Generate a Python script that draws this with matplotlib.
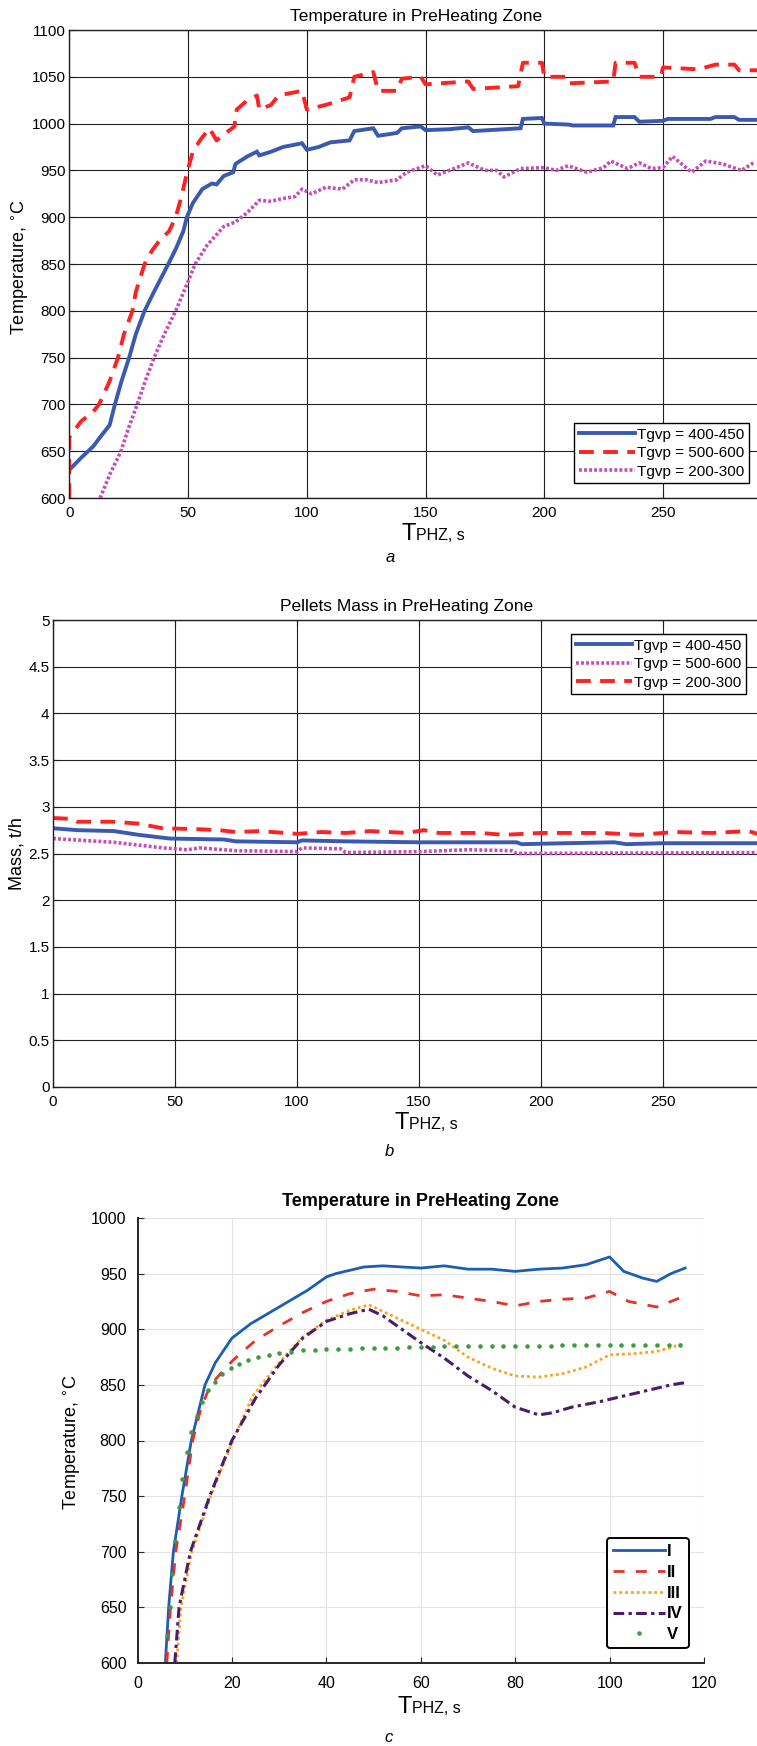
import matplotlib
matplotlib.use("Agg")
import matplotlib.pyplot as plt
from matplotlib.ticker import FuncFormatter

plt.rcParams['font.family'] = ['Liberation Sans', 'DejaVu Sans']

# ---------------- data: chart a (temperature, 3 regimes) ----------------
a_labels = ['Tgvp = 400-450', 'Tgvp = 500-600', 'Tgvp = 200-300']
a_blue_x = [0, 5, 10, 13, 17, 19.2, 22, 25.2, 28, 31.7, 36, 41.7, 45, 48, 49.5, 52, 56, 60, 62, 65,
            69, 70, 75, 79, 80, 85, 90, 98, 100, 105, 110, 118, 120, 128, 130, 138, 140, 148, 150, 160,
            168, 170, 190, 191, 199, 200, 210, 212, 229, 230, 238, 240, 250, 252, 270, 272, 280, 282, 290]
a_blue_y = [630, 643, 655, 665, 678, 700, 725, 750, 775, 800, 822, 850, 867, 885, 900, 915, 930, 936, 935, 944,
            948, 957, 965, 970, 966, 970, 975, 979, 972, 975, 980, 982, 992, 995, 987, 990, 995, 997, 993, 994,
            996, 992, 995, 1005, 1006, 1000, 999, 998, 998, 1007, 1007, 1002, 1003, 1005, 1005, 1007, 1007, 1004, 1004]
a_red_x = [0, 0, 5, 10, 12.5, 17, 20.5, 23, 26.6, 28, 31.7, 35, 38, 42, 44.8, 47, 49.8, 52, 55, 59,
           62, 66, 69.5, 70.5, 75, 79, 80, 85, 88, 98, 100, 108, 118, 120, 128, 130, 138, 140, 148, 150,
           168, 170, 189, 191, 199, 200, 209, 210, 229, 230, 238, 240, 249, 250, 265, 272, 280, 282, 290]
a_red_y = [600, 665, 682, 692, 700, 725, 750, 775, 800, 820, 850, 865, 875, 885, 900, 920, 950, 970, 982, 995,
           982, 990, 997, 1015, 1025, 1030, 1015, 1020, 1030, 1035, 1015, 1020, 1028, 1050, 1055, 1035, 1035, 1048, 1050, 1042,
           1045, 1037, 1040, 1065, 1065, 1050, 1050, 1043, 1045, 1065, 1065, 1050, 1050, 1060, 1058, 1063, 1063, 1057, 1057]
a_mag_x = [13, 17, 21.6, 25, 28.6, 32, 35.7, 40, 44.8, 49.8, 53, 58, 65, 70, 75, 80, 85, 90, 95, 98,
           102, 108, 115, 120, 125, 130, 138, 142, 150, 155, 160, 168, 175, 180, 183, 190, 200, 205, 210, 218,
           225, 228, 235, 240, 245, 250, 254, 262, 268, 275, 283, 288]
a_mag_y = [600, 625, 649, 675, 700, 725, 750, 775, 800, 830, 850, 870, 890, 895, 905, 918, 917, 920, 922, 930,
           925, 932, 930, 940, 940, 937, 940, 948, 955, 945, 950, 958, 950, 950, 943, 952, 953, 950, 955, 948,
           953, 960, 952, 958, 952, 953, 965, 948, 960, 957, 950, 958]

# ---------------- data: chart b (pellets mass) ----------------
b_labels = ['Tgvp = 400-450', 'Tgvp = 500-600', 'Tgvp = 200-300']
b_blue_x = [0, 10, 25, 35, 48, 70, 75, 100, 102, 120, 150, 190, 192, 210, 230, 235, 250, 290]
b_blue_y = [2.77, 2.75, 2.74, 2.70, 2.66, 2.65, 2.63, 2.62, 2.64, 2.63, 2.62, 2.62, 2.60, 2.61, 2.62, 2.60, 2.61, 2.61]
b_mag_x = [0, 25, 45, 55, 60, 75, 100, 102, 118, 120, 150, 170, 188, 190, 290]
b_mag_y = [2.66, 2.62, 2.56, 2.54, 2.56, 2.53, 2.52, 2.56, 2.55, 2.51, 2.52, 2.54, 2.53, 2.50, 2.51]
b_red_x = [0, 8, 10, 25, 35, 45, 60, 68, 75, 85, 100, 110, 120, 130, 145, 152, 158, 175, 185, 200,
           225, 240, 255, 270, 285, 290]
b_red_y = [2.88, 2.87, 2.84, 2.84, 2.82, 2.77, 2.76, 2.75, 2.73, 2.74, 2.71, 2.73, 2.72, 2.74, 2.72, 2.75, 2.72, 2.72, 2.70, 2.72,
           2.72, 2.70, 2.73, 2.72, 2.74, 2.70]

# ---------------- data: chart c (temperature, 5 variants) ----------------
c_labels = ['I', 'II', 'III', 'IV', 'V']
c_x1 = [5.9, 6.6, 7.6, 9.4, 11.4, 14.3, 16.5, 20, 24, 28, 32, 36, 40, 42, 48, 52, 56, 60, 65, 70,
        75, 80, 85, 90, 95, 100, 103, 107, 110, 113, 116]
c_y1 = [600, 650, 700, 750, 800, 850, 870, 892, 905, 915, 925, 935, 947, 950, 956, 957, 956, 955, 957, 954,
        954, 952, 954, 955, 958, 965, 952, 946, 943, 950, 955]
c_x2 = [6.2, 7, 8.1, 10, 11.7, 13.5, 15.5, 18, 20.2, 25, 30, 35, 40, 45, 50, 55, 60, 65, 70, 75,
        80, 85, 90, 95, 100, 104, 110, 113, 116]
c_y2 = [600, 650, 700, 750, 800, 830, 850, 862, 872, 890, 903, 915, 925, 932, 936, 934, 930, 931, 928, 925,
        921, 925, 927, 928, 934, 925, 920, 925, 930]
c_x3 = [8.3, 9.2, 11.5, 15.5, 20.2, 24.4, 30, 35, 40, 45, 49, 51, 55, 60, 65, 70, 75, 80, 85, 90,
        95, 100, 105, 110, 114, 116]
c_y3 = [600, 650, 700, 750, 800, 840, 870, 893, 908, 917, 922, 918, 910, 900, 890, 875, 865, 858, 857, 860,
        866, 877, 878, 880, 885, 887]
c_x4 = [7.9, 8.8, 11.2, 15.3, 20, 25, 30, 35, 40, 45, 49, 52, 56, 60, 65, 70, 75, 80, 85, 88,
        92, 98, 103, 108, 113, 116]
c_y4 = [600, 650, 700, 750, 800, 838, 868, 892, 907, 914, 918, 912, 900, 888, 874, 858, 845, 830, 823, 825,
        830, 835, 840, 845, 850, 852]
c_x5 = [5.8, 6.3, 6.8, 7.4, 8.0, 8.7, 9.5, 10.4, 11.4, 12.5, 13.7, 15.0, 16.4, 18.0, 19.7, 21.5, 23.5, 25.6, 27.8, 30,
        32.5, 35, 37.5, 40, 42.5, 45, 47.5, 50, 52.5, 55, 57.5, 60, 62.5, 65, 67.5, 70, 72.5, 75, 77.5, 80,
        82.5, 85, 87.5, 90, 92.5, 95, 97.5, 100, 102.5, 105, 107.5, 110, 112.5, 115]
c_y5 = [600, 625, 650, 680, 710, 740, 765, 790, 808, 822, 835, 845, 853, 860, 865, 869, 872, 875, 877, 879,
        880, 881, 881.5, 882, 882, 882.5, 883, 883, 883, 883.5, 884, 884, 884, 884.5, 884.5, 885, 885, 885, 885, 885,
        885, 885, 885, 885.5, 885.5, 885.5, 885.5, 885.5, 886, 886, 886, 886, 886, 886]

W, H = 757, 1746
fig = plt.figure(figsize=(W / 100, H / 100), dpi=100)


def fx(px):
    return px / W


def fy(py):
    return 1 - py / H


NARROW = ['Liberation Sans Narrow', 'Liberation Sans', 'DejaVu Sans']
fmt = FuncFormatter(lambda v, p: f'{v:g}')

BLUE, RED, MAG = '#3A5AB2', '#FF2222', '#C64DB9'


def style_matlab(ax):
    ax.grid(True, color='#202020', lw=0.8, ls='-')
    ax.set_axisbelow(True)
    ax.tick_params(direction='in', length=4, top=True, right=True, labelsize=11, color='#202020')
    ax.tick_params(axis='x', pad=6)
    ax.tick_params(axis='y', pad=2.5)
    for s in ax.spines.values():
        s.set_color('#202020')
        s.set_linewidth(1.0)
    ax.xaxis.set_major_formatter(fmt)
    ax.yaxis.set_major_formatter(fmt)


def xlabel_tphz(xsplit, ybase):
    fig.text(fx(xsplit), fy(ybase), 'T', ha='right', va='baseline', fontsize=17, family=NARROW)
    fig.text(fx(xsplit), fy(ybase), 'PHZ, s', ha='left', va='baseline', fontsize=11.5, family=NARROW)


# ---------------- chart a ----------------
ax = fig.add_axes([fx(69.3), fy(498), fx(300 * 2.375), 468 / H])
ax.plot(a_blue_x, a_blue_y, color=BLUE, lw=2.8, label=a_labels[0], solid_joinstyle='miter')
ax.plot(a_red_x, a_red_y, color=RED, lw=2.8, ls=(0, (3.8, 2.4)), label=a_labels[1])
ax.plot(a_mag_x, a_mag_y, color=MAG, lw=2.6, ls=(0, (0.8, 0.6)), label=a_labels[2])
ax.set_xlim(0, 300)
ax.set_ylim(600, 1100)
ax.set_xticks(range(0, 251, 50))
ax.set_yticks(range(600, 1101, 50))
style_matlab(ax)
leg = ax.legend(loc='upper left', bbox_to_anchor=(fx(574), fy(423)), bbox_transform=fig.transFigure,
                borderaxespad=0, fancybox=False, edgecolor='black', framealpha=1, fontsize=11,
                handlelength=3.7, handletextpad=0.15, labelspacing=0.3, borderpad=0.3)
leg.get_frame().set_linewidth(1.0)
fig.text(fx(416), fy(17), 'Temperature in PreHeating Zone', ha='center', va='center', fontsize=12.5)
fig.text(fx(20), fy(267), 'Temperature, $^{\\circ}$C', ha='center', va='center', rotation=90, fontsize=13)
xlabel_tphz(416, 540)
fig.text(fx(390), fy(557), 'a', ha='center', va='center', fontsize=12, style='italic', family=NARROW)

# ---------------- chart b ----------------
ax = fig.add_axes([fx(53), fy(1087), fx(300 * 2.44), 467 / H])
ax.plot(b_blue_x, b_blue_y, color=BLUE, lw=2.8, label=b_labels[0])
ax.plot(b_mag_x, b_mag_y, color=MAG, lw=2.6, ls=(0, (0.8, 0.6)), label=b_labels[1])
ax.plot(b_red_x, b_red_y, color=RED, lw=2.8, ls=(0, (3.8, 2.4)), label=b_labels[2])
ax.set_xlim(0, 300)
ax.set_ylim(0, 5)
ax.set_xticks(range(0, 251, 50))
ax.set_yticks([i * 0.5 for i in range(11)])
style_matlab(ax)
leg = ax.legend(loc='upper left', bbox_to_anchor=(fx(571), fy(634)), bbox_transform=fig.transFigure,
                borderaxespad=0, fancybox=False, edgecolor='black', framealpha=1, fontsize=11,
                handlelength=3.7, handletextpad=0.15, labelspacing=0.3, borderpad=0.3)
leg.get_frame().set_linewidth(1.0)
fig.text(fx(407), fy(606), 'Pellets Mass in PreHeating Zone', ha='center', va='center', fontsize=12.5)
fig.text(fx(17), fy(854), 'Mass, t/h', ha='center', va='center', rotation=90, fontsize=13)
xlabel_tphz(409, 1129)
fig.text(fx(389), fy(1152), 'b', ha='center', va='center', fontsize=12, style='italic', family=NARROW)

# ---------------- chart c ----------------
ax = fig.add_axes([fx(137.5), fy(1663), fx(566.5), 445 / H])
ax.plot(c_x1, c_y1, color='#1C5EB5', lw=2.0, label=c_labels[0])
ax.plot(c_x2, c_y2, color='#E5332A', lw=2.0, ls=(0, (4, 4)), label=c_labels[1])
ax.plot(c_x3, c_y3, color='#FFA21A', lw=2.0, ls=(0, (1, 1.1)), label=c_labels[2])
ax.plot(c_x4, c_y4, color='#4B1B6C', lw=2.2, ls=(0, (3.5, 1.4, 1.1, 1.4)), label=c_labels[3])
ax.plot(c_x5, c_y5, color='#3E9B3E', ls='none', marker='.', ms=4.5, label=c_labels[4])
ax.set_xlim(0, 120)
ax.set_ylim(600, 1000)
ax.set_xticks(range(0, 121, 20))
ax.set_yticks(range(600, 1001, 50))
ax.grid(True, color='#E3E3E3', lw=0.8)
ax.set_axisbelow(True)
for s in ['top', 'right']:
    ax.spines[s].set_visible(False)
for s in ['left', 'bottom']:
    ax.spines[s].set_linewidth(1.4)
    ax.spines[s].set_color('#262626')
ax.tick_params(direction='in', length=4, labelsize=11.5, color='#262626')
ax.tick_params(axis='x', pad=9)
ax.tick_params(axis='y', pad=8)
leg = ax.legend(loc='upper left', bbox_to_anchor=(fx(607), fy(1538)), bbox_transform=fig.transFigure,
                borderaxespad=0, fancybox=True, edgecolor='black', framealpha=1,
                prop={'size': 12, 'weight': 'bold'}, numpoints=1,
                handlelength=3.1, handletextpad=0.15, labelspacing=0.35, borderpad=0.35)
leg.get_frame().set_linewidth(1.4)
fig.text(fx(420), fy(1202), 'Temperature in PreHeating Zone', ha='center', va='center', fontsize=13,
         fontweight='bold')
fig.text(fx(72), fy(1442), 'Temperature, $^{\\circ}$C', ha='center', va='center', rotation=90, fontsize=13)
xlabel_tphz(412, 1713)
fig.text(fx(389), fy(1738), 'c', ha='center', va='center', fontsize=12, style='italic', family=NARROW)

fig.savefig('out.png', dpi=100)
